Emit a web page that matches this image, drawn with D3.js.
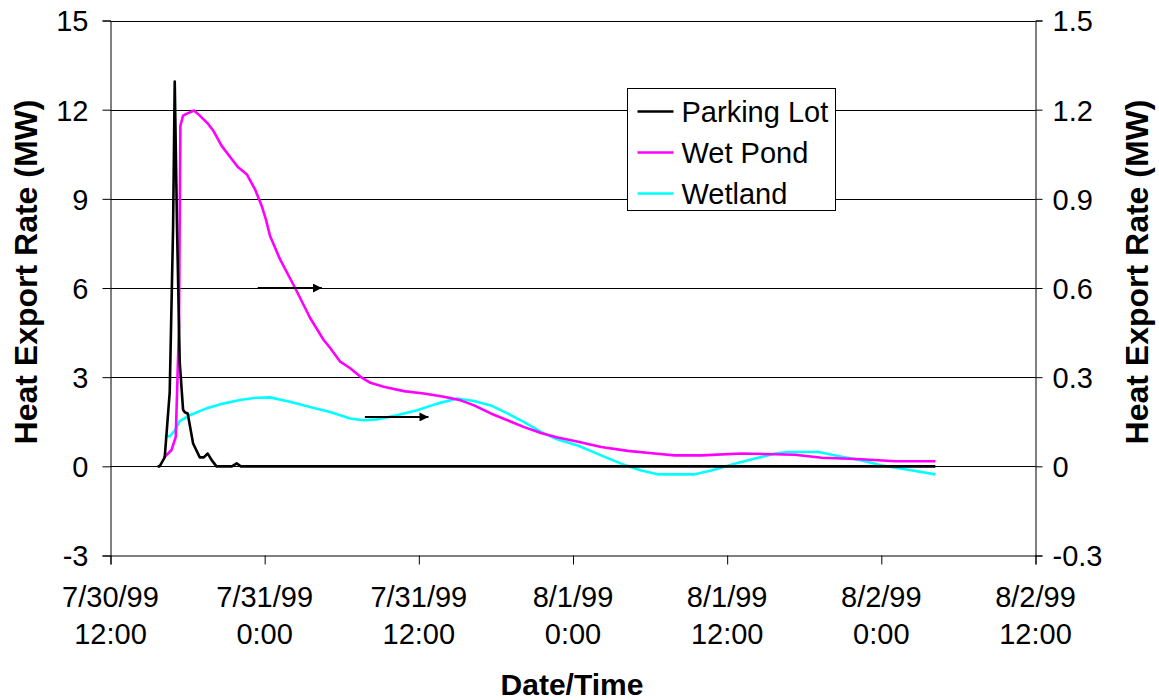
<!DOCTYPE html>
<html>
<head>
<meta charset="utf-8">
<script src="https://cdn.jsdelivr.net/npm/d3@7"></script>
<style>
  body { margin: 0; background: #fff; }
  svg { display: block; }
  text { font-family: "Liberation Sans", Arial, sans-serif; fill: #000; }
</style>
</head>
<body>
<svg id="chart" width="1159" height="700"></svg>
<script>
// Time span shown on the x axis
const startTime = new Date(1999, 6, 30, 12, 0);
const endTime = new Date(1999, 7, 2, 12, 0);

// Axis ticks
const leftTicks = [-3, 0, 3, 6, 9, 12, 15];
const rightTicks = [-0.3, 0, 0.3, 0.6, 0.9, 1.2, 1.5];

// Parking Lot heat export (left axis, MW); hours after 7/30/99 12:00
const parkingLotHours = [3.67, 3.82, 4.22, 4.61, 4.87, 5.00, 5.18, 5.39, 5.65, 5.78, 6.01, 6.43, 6.95, 7.26, 7.57, 7.89, 8.25, 9.45, 9.82, 10.15, 64.2];
const parkingLotMW   = [0, 0, 0.3, 2.5, 8.0, 12.95, 8.0, 3.5, 1.9, 1.82, 1.78, 0.77, 0.3, 0.3, 0.43, 0.2, 0, 0, 0.1, 0, 0];

// Wet Pond heat export (right axis, MW)
const wetPondHours = [4.14, 4.74, 5.08, 5.33, 5.44, 5.65, 5.91, 6.50, 6.95, 7.60, 7.99, 8.64, 9.43, 9.94, 10.60, 11.25, 11.77, 12.10, 12.42, 13.20, 14.37, 15.54, 16.58, 17.10, 17.88, 18.66, 19.44, 20.23, 21.26, 22.83, 24.39, 25.95, 27.25, 28.30, 29.60, 30.90, 32.20, 33.50, 34.80, 36.40, 38.19, 40.27, 42.35, 43.91, 46.0, 49.12, 53.26, 55.37, 58.49, 61.09, 64.21];
const wetPondMW   = [0.029, 0.054, 0.099, 0.47, 1.146, 1.18, 1.186, 1.197, 1.18, 1.152, 1.13, 1.079, 1.034, 1.006, 0.983, 0.932, 0.876, 0.83, 0.775, 0.696, 0.6, 0.499, 0.426, 0.398, 0.352, 0.33, 0.302, 0.281, 0.268, 0.253, 0.245, 0.234, 0.222, 0.205, 0.178, 0.155, 0.132, 0.112, 0.097, 0.083, 0.065, 0.052, 0.043, 0.037, 0.037, 0.043, 0.039, 0.029, 0.024, 0.017, 0.017];

// Wetland heat export (right axis, MW)
const wetlandHours = [4.22, 4.61, 5.00, 5.39, 6.17, 7.47, 8.77, 10.07, 11.37, 12.41, 13.97, 15.53, 17.09, 18.66, 19.70, 20.74, 22.30, 23.87, 25.43, 26.99, 28.29, 29.60, 30.90, 32.20, 33.50, 34.80, 36.37, 38.19, 39.75, 41.31, 42.61, 45.47, 46.77, 48.59, 50.15, 51.72, 52.76, 55.10, 56.92, 58.49, 60.05, 61.61, 64.21];
const wetlandMW   = [0.101, 0.101, 0.12, 0.152, 0.172, 0.195, 0.211, 0.223, 0.231, 0.232, 0.217, 0.2, 0.183, 0.161, 0.155, 0.158, 0.172, 0.189, 0.211, 0.228, 0.22, 0.205, 0.178, 0.149, 0.116, 0.09, 0.07, 0.037, 0.009, -0.014, -0.027, -0.027, -0.014, 0.009, 0.026, 0.043, 0.048, 0.048, 0.032, 0.02, 0.003, -0.008, -0.027];

// Arrows pointing each pond series to the right axis: [startHour, endHour, leftAxisValue]
const wetPondArrow = [11.46, 16.45, 6];
const wetlandArrow = [19.8, 24.75, 1.66];

const legendItems = [
  { name: "Parking Lot", color: "#000000" },
  { name: "Wet Pond", color: "#FF00FF" },
  { name: "Wetland", color: "#00FFFF" }
];

const svg = d3.select("#chart");
const x0 = 110.5, x1 = 1035.5, yTop = 20.5, yBottom = 555.5;
const tickFont = 29;

const toDate = h => new Date(startTime.getTime() + h * 3600e3);

const x = d3.scaleTime().domain([startTime, endTime]).range([x0, x1]);
const yL = d3.scaleLinear().domain([-3, 15]).range([yBottom, yTop]);
const yR = d3.scaleLinear().domain([-0.3, 1.5]).range([yBottom, yTop]);

// Plain hyphen for negative tick labels
const fmtLeft = d => String(d);
const fmtRight = d => d === 0 ? "0" : d.toFixed(1);

// Horizontal gridlines
svg.append("g")
  .selectAll("line")
  .data(leftTicks.filter(d => d > -3))
  .join("line")
  .attr("x1", x0).attr("x2", x1)
  .attr("y1", d => Math.round(yL(d)) + 0.5)
  .attr("y2", d => Math.round(yL(d)) + 0.5)
  .attr("stroke", "#000")
  .attr("stroke-width", 1);

// Left axis
const gL = svg.append("g")
  .attr("transform", `translate(${x0},0)`)
  .call(d3.axisLeft(yL).tickValues(leftTicks).tickSize(8).tickPadding(14).tickFormat(fmtLeft));
// Right axis
const gR = svg.append("g")
  .attr("transform", `translate(${x1},0)`)
  .call(d3.axisRight(yR).tickValues(rightTicks).tickSize(7).tickPadding(10).tickFormat(fmtRight));
// Bottom axis
const xTicks = d3.range(0, 7).map(i => d3.timeHour.offset(startTime, i * 12));
const gB = svg.append("g")
  .attr("transform", `translate(0,${yBottom})`)
  .call(d3.axisBottom(x).tickValues(xTicks).tickSize(9).tickFormat(() => ""));

[gL, gR, gB].forEach(g => {
  g.select(".domain").attr("stroke", "#000").attr("stroke-width", 1);
  g.selectAll(".tick line").attr("stroke", "#000");
  g.selectAll("text").attr("font-size", tickFont).attr("font-family", "Liberation Sans, Arial, sans-serif").attr("fill", "#000");
});
gL.selectAll(".tick text").attr("dy", "0.36em");
gR.selectAll(".tick text").attr("dy", "0.36em");

// Two-line date/time tick labels
const fmtDate = d3.timeFormat("%-m/%-d/%y");
const fmtTime = d3.timeFormat("%-H:%M");
const xLabels = svg.append("g").selectAll("text")
  .data(xTicks)
  .join("text")
  .attr("text-anchor", "middle")
  .attr("font-size", tickFont)
  .attr("x", d => x(d));
xLabels.append("tspan").attr("x", d => x(d)).attr("y", 607).text(fmtDate);
xLabels.append("tspan").attr("x", d => x(d)).attr("y", 644).text(fmtTime);

// Series lines
const lineL = d3.line().x(d => x(toDate(d[0]))).y(d => yL(d[1]));
const lineR = d3.line().x(d => x(toDate(d[0]))).y(d => yR(d[1]));

svg.append("path")
  .datum(wetlandHours.map((h, i) => [h, wetlandMW[i]]))
  .attr("d", lineR).attr("fill", "none").attr("stroke", "#00FFFF").attr("stroke-width", 2.6).attr("stroke-linejoin", "round");
svg.append("path")
  .datum(wetPondHours.map((h, i) => [h, wetPondMW[i]]))
  .attr("d", lineR).attr("fill", "none").attr("stroke", "#FF00FF").attr("stroke-width", 2.6).attr("stroke-linejoin", "round");
svg.append("path")
  .datum(parkingLotHours.map((h, i) => [h, parkingLotMW[i]]))
  .attr("d", lineL).attr("fill", "none").attr("stroke", "#000").attr("stroke-width", 2.6).attr("stroke-linejoin", "round");

// Arrows
svg.append("defs").append("marker")
  .attr("id", "arrowHead")
  .attr("viewBox", "0 0 10 10")
  .attr("refX", 10).attr("refY", 5)
  .attr("markerWidth", 4.5).attr("markerHeight", 4.5)
  .attr("markerUnits", "strokeWidth")
  .attr("orient", "auto")
  .append("path").attr("d", "M0,0L10,5L0,10z").attr("fill", "#000");

[wetPondArrow, wetlandArrow].forEach(a => {
  svg.append("line")
    .attr("x1", x(toDate(a[0]))).attr("x2", x(toDate(a[1])))
    .attr("y1", yL(a[2])).attr("y2", yL(a[2]))
    .attr("stroke", "#000").attr("stroke-width", 2)
    .attr("marker-end", "url(#arrowHead)");
});

// Legend
const legend = svg.append("g").attr("transform", "translate(627.5,88.5)");
legend.append("rect").attr("width", 208).attr("height", 122)
  .attr("fill", "#fff").attr("stroke", "#000").attr("stroke-width", 1);
legendItems.forEach((item, i) => {
  const cy = 23 + i * 41;
  legend.append("line").attr("x1", 10).attr("x2", 46).attr("y1", cy).attr("y2", cy)
    .attr("stroke", item.color).attr("stroke-width", 2.6);
  legend.append("text").attr("x", 54).attr("y", cy).attr("dy", "0.36em")
    .attr("font-size", tickFont).text(item.name);
});

// Axis titles
svg.append("text")
  .attr("transform", "translate(37,272) rotate(-90)")
  .attr("text-anchor", "middle").attr("font-size", 32).attr("font-weight", "bold")
  .text("Heat Export Rate (MW)");
svg.append("text")
  .attr("transform", "translate(1148,272) rotate(-90)")
  .attr("text-anchor", "middle").attr("font-size", 32).attr("font-weight", "bold")
  .text("Heat Export Rate (MW)");
svg.append("text")
  .attr("x", 572).attr("y", 695)
  .attr("text-anchor", "middle").attr("font-size", 30).attr("font-weight", "bold")
  .text("Date/Time");
</script>
</body>
</html>
